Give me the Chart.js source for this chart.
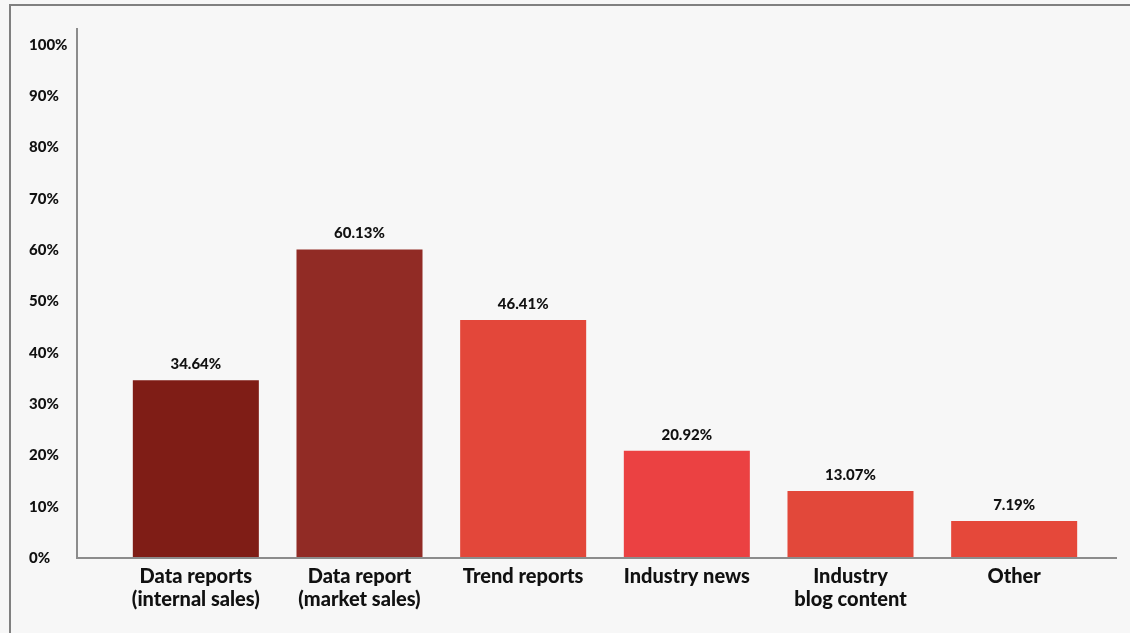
<!DOCTYPE html>
<html>
<head>
<meta charset="utf-8">
<script src="https://cdn.jsdelivr.net/npm/chart.js@4/dist/chart.umd.min.js"></script>
<style>
  html, body { margin: 0; padding: 0; background: #f7f7f7; }
  #wrap { position: relative; width: 1130px; height: 633px; overflow: hidden; }
  #frame { position: absolute; left: 9px; top: 4px; width: 1200px; height: 700px;
           border-top: 2px solid #808080; border-left: 2px solid #808080; }
  canvas { position: absolute; left: 0; top: 0; }
</style>
</head>
<body>
<div id="wrap">
  <div id="frame"></div>
  <canvas id="myChart" width="1130" height="633"></canvas>
</div>
<script>
const categories = [
  ['Data reports', '(internal sales)'],
  ['Data report', '(market sales)'],
  'Trend reports',
  'Industry news',
  ['Industry', 'blog content'],
  'Other'
];
const shares = [34.64, 60.13, 46.41, 20.92, 13.07, 7.19];
const barColors = ['#7f1d16', '#912b25', '#e3473a', '#eb4142', '#e2483a', '#e5483a'];
const yTicks = [0, 10, 20, 30, 40, 50, 60, 70, 80, 90, 100];

const FONT = 'Lato, "Noto Sans", sans-serif';

// axis lines run a little past the plot area, drawn by hand
const axisLines = {
  id: 'axisLines',
  afterDatasetsDraw(chart) {
    const { ctx, chartArea, scales } = chart;
    const y0 = scales.y.getPixelForValue(0);
    const xLeft = chartArea.left - 37;
    ctx.save();
    ctx.strokeStyle = '#8c8c8c';
    ctx.lineWidth = 2;
    ctx.beginPath();
    ctx.moveTo(xLeft, chartArea.top - 17);
    ctx.lineTo(xLeft, y0);
    ctx.lineTo(chartArea.right + 21, y0);
    ctx.stroke();
    ctx.restore();
  }
};

// percentage printed above each bar
const valueLabels = {
  id: 'valueLabels',
  afterDatasetsDraw(chart) {
    const { ctx } = chart;
    const meta = chart.getDatasetMeta(0);
    ctx.save();
    ctx.font = '900 15px ' + FONT;
    ctx.fillStyle = '#111';
    ctx.textAlign = 'center';
    ctx.textBaseline = 'middle';
    meta.data.forEach((bar, i) => {
      ctx.fillText(shares[i].toFixed(2) + '%', bar.x, bar.y - 16);
    });
    ctx.restore();
  }
};

new Chart(document.getElementById('myChart'), {
  type: 'bar',
  data: {
    labels: categories,
    datasets: [{
      data: shares,
      backgroundColor: barColors,
      borderWidth: 0,
      categoryPercentage: 1,
      barPercentage: 0.77
    }]
  },
  options: {
    responsive: false,
    animation: false,
    layout: { padding: { top: 45, right: 34, bottom: 0, left: 29 } },
    plugins: { legend: { display: false }, tooltip: { enabled: false } },
    scales: {
      y: {
        min: 0,
        max: 100,
        afterFit(scale) { scale.width = 85; },
        afterBuildTicks(scale) { scale.ticks = yTicks.map(v => ({ value: v })); },
        grid: { display: false, drawTicks: false },
        border: { display: false },
        ticks: {
          crossAlign: 'far',
          color: '#111',
          font: { family: FONT, size: 15, weight: 900 },
          callback: v => v + '%'
        }
      },
      x: {
        afterFit(scale) { scale.height = 75; },
        grid: { display: false, drawTicks: false },
        border: { display: false },
        ticks: {
          padding: 7,
          maxRotation: 0,
          autoSkip: false,
          color: '#111',
          font: { family: FONT, size: 20, weight: 900, lineHeight: 1.15 }
        }
      }
    }
  },
  plugins: [axisLines, valueLabels]
});
</script>
</body>
</html>
